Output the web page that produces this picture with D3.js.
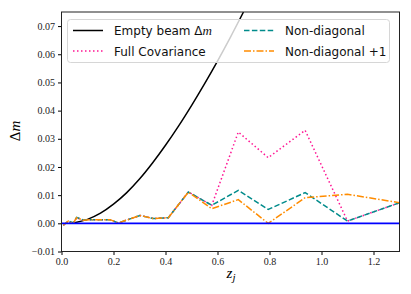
<!DOCTYPE html>
<html>
<head>
<meta charset="utf-8">
<style>
    body { margin: 0; background: #fff; }
    svg { display: block; }
    .tick text { font-family: "Liberation Serif", serif; font-size: 10px; fill: #222; }
    .legend text { font-family: "DejaVu Sans", sans-serif; font-size: 12px; fill: #111; }
</style>
</head>
<body>
<svg width="411" height="294"></svg>
<script src="https://d3js.org/d3.v7.min.js"></script>
<script>
// Empty beam curve
let emptyZ  = [0.03, 0.05, 0.10, 0.15, 0.20, 0.25, 0.30, 0.35, 0.40, 0.45, 0.50, 0.55, 0.60, 0.65, 0.70]
let emptyDm = [0.0, 0.0002, 0.0014, 0.0036, 0.0068, 0.0108, 0.0157, 0.0214, 0.0277, 0.0345, 0.0418, 0.0495, 0.0576, 0.0661, 0.0750]

// binned points
let binZ     = [0.007, 0.026, 0.045, 0.058, 0.084, 0.12, 0.187, 0.218, 0.302, 0.353, 0.411, 0.488, 0.578, 0.68, 0.795, 0.937, 1.10, 1.30]
let fullCov  = [-0.0007, 0.0008, 0.0, 0.0020, 0.0011, 0.0013, 0.0013, 0.0001, 0.0028, 0.0017, 0.0020, 0.0111, 0.0064, 0.0324, 0.0233, 0.0330, 0.0008, 0.0073]
let nonDiag  = [-0.0007, 0.0008, 0.0002, 0.0021, 0.0012, 0.0013, 0.0013, 0.0001, 0.0028, 0.0017, 0.0020, 0.0111, 0.0064, 0.0117, 0.0049, 0.0109, 0.0008, 0.0073]
let nonDiag1 = [-0.0007, 0.0008, 0.0, 0.0020, 0.0011, 0.0013, 0.0013, 0.0001, 0.0028, 0.0017, 0.0020, 0.0111, 0.0052, 0.0084, 0.0, 0.0091, 0.0103, 0.0073]

let xTicks = [0.0, 0.2, 0.4, 0.6, 0.8, 1.0, 1.2]
let yTicks = [-0.01, 0.0, 0.01, 0.02, 0.03, 0.04, 0.05, 0.06, 0.07]

let margin = { left: 61.5, right: 399.5, top: 12, bottom: 251.5 }
let svg = d3.select("svg")

let x = d3.scaleLinear().domain([0, 1.3]).range([margin.left, margin.right])
let y = d3.scaleLinear().domain([-0.01, 0.075]).range([margin.bottom, margin.top])

svg.append("defs").append("clipPath").attr("id", "clip")
    .append("rect")
    .attr("x", margin.left).attr("y", margin.top)
    .attr("width", margin.right - margin.left).attr("height", margin.bottom - margin.top)

let plot = svg.append("g").attr("clip-path", "url(#clip)")

let smooth = d3.line().x(d => x(d[0])).y(d => y(d[1])).curve(d3.curveCatmullRom.alpha(0.5))

plot.append("path")
    .datum(emptyZ.map((z, i) => [z, emptyDm[i]]))
    .attr("d", smooth)
    .attr("fill", "none").attr("stroke", "black").attr("stroke-width", 1.5)

let lineL = d3.line().x(d => x(d[0])).y(d => y(d[1]))

let series = [
    { vals: fullCov,  color: "deeppink",   dash: "1.5,2.5" },
    { vals: nonDiag,  color: "darkcyan",   dash: "5.5,2.4" },
    { vals: nonDiag1, color: "darkorange", dash: "7,2,1.5,2" }
]

series.forEach(s => {
    plot.append("path")
        .datum(binZ.map((z, i) => [z, s.vals[i]]))
        .attr("d", lineL)
        .attr("fill", "none")
        .attr("stroke", s.color)
        .attr("stroke-width", 1.5)
        .attr("stroke-dasharray", s.dash)
})

plot.append("line")
    .attr("x1", margin.left).attr("x2", margin.right)
    .attr("y1", y(0)).attr("y2", y(0))
    .attr("stroke", "#0000ff").attr("stroke-width", 1.8)

// axes
let xAxis = svg.append("g")
    .attr("transform", `translate(0,${margin.bottom})`)
    .call(d3.axisBottom(x).tickValues(xTicks).tickSize(3.5).tickPadding(3).tickFormat(d3.format(".1f")))
xAxis.select(".domain").remove()

let yAxis = svg.append("g")
    .attr("transform", `translate(${margin.left},0)`)
    .call(d3.axisLeft(y).tickValues(yTicks).tickSize(3.5).tickPadding(3)
        .tickFormat(d => d3.format(".2f")(d).replace("-", "\u2212")))
yAxis.select(".domain").remove()

svg.append("rect")
    .attr("x", margin.left).attr("y", margin.top)
    .attr("width", margin.right - margin.left).attr("height", margin.bottom - margin.top)
    .attr("fill", "none").attr("stroke", "#222").attr("stroke-width", 1)

// axis labels
svg.append("text")
    .attr("x", 231).attr("y", 278)
    .attr("text-anchor", "middle")
    .style("font-family", "Liberation Serif, serif").style("font-size", "15px").style("font-style", "italic")
    .html('z<tspan dy="3" font-size="11px">j</tspan>')

svg.append("text")
    .attr("transform", "translate(20,131) rotate(-90)")
    .attr("text-anchor", "middle")
    .style("font-family", "Liberation Serif, serif").style("font-size", "15px")
    .html('\u0394<tspan font-style="italic">m</tspan>')

// legend
let legend = svg.append("g").attr("class", "legend")
legend.append("rect")
    .attr("x", 67.5).attr("y", 19.5).attr("width", 322).attr("height", 43)
    .attr("rx", 3)
    .attr("fill", "white").attr("fill-opacity", 0.8)
    .attr("stroke", "#d6d6d6").attr("stroke-width", 1)

let legItems = [
    { label: "Empty beam \u0394", math: "m", color: "black", dash: null, col: 0, row: 0 },
    { label: "Full Covariance", color: "deeppink", dash: "1.5,2.5", col: 0, row: 1 },
    { label: "Non-diagonal", color: "darkcyan", dash: "5.5,2.4", col: 1, row: 0 },
    { label: "Non-diagonal +1", color: "darkorange", dash: "7,2,1.5,2", col: 1, row: 1 }
]
let colX = [73, 244]
legItems.forEach(d => {
    let lx = colX[d.col]
    let ly = 30.5 + d.row * 20.5
    legend.append("line")
        .attr("x1", lx).attr("x2", lx + 30)
        .attr("y1", ly).attr("y2", ly)
        .attr("stroke", d.color).attr("stroke-width", 1.5)
        .attr("stroke-dasharray", d.dash)
    let t = legend.append("text")
        .attr("x", lx + 41).attr("y", ly + 4.5)
        .text(d.label)
    if (d.math) {
        t.append("tspan").text(d.math)
            .style("font-family", "Liberation Serif, serif").style("font-style", "italic").style("font-size", "13px")
    }
})
</script>
</body>
</html>
